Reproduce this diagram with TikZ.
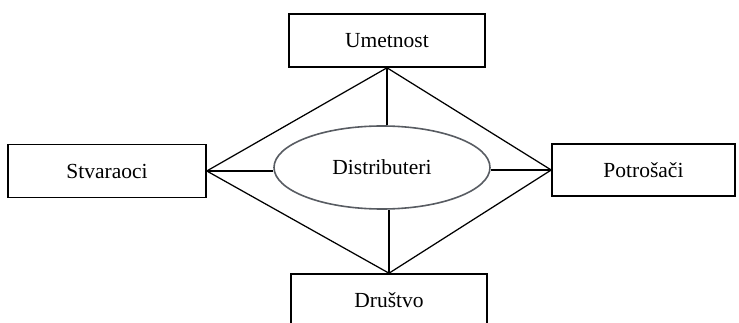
\documentclass[tikz,border=0pt]{standalone}
\usepackage{fontspec}
\setmainfont{Liberation Serif}
\usetikzlibrary{shapes.geometric}
\definecolor{ovalgray}{RGB}{88,92,98}
\tikzset{
  box/.style={draw=black, line width=1.6pt, minimum height=53pt, inner sep=0pt,
              font=\fontsize{21.5}{24}\selectfont},
  oval/.style={ellipse, draw=ovalgray, line width=1.6pt, minimum width=216pt,
               minimum height=83pt, inner sep=0pt, font=\fontsize{21.5}{24}\selectfont},
  link/.style={draw=black, line width=1.25pt}
}
\begin{document}
\begin{tikzpicture}[x=1pt, y=-1pt]
  \useasboundingbox (0,0) rectangle (739,323);
  % four actors around the centre
  \node[box, minimum width=196pt] (umet) at (387,40.5) {Umetnost};
  \node[box, minimum width=198pt] (stvar) at (107,171) {Stvaraoci};
  \node[box, minimum width=183pt, minimum height=52pt] (potr) at (643.5,170) {Potrošači};
  \node[box, minimum width=196pt] (drus) at (389,300.5) {Društvo};
  % distributors in the middle
  \node[oval] (dist) at (382,167.5) {Distributeri};
  % diamond joining the four boxes
  \draw[link] (umet.south) -- (stvar.east) -- (drus.north) -- (potr.west) -- cycle;
  % spokes from the diamond corners to the oval
  \draw[link] (umet.south) -- (umet.south |- dist.north);
  \draw[link] (drus.north) -- (drus.north |- dist.south);
  \draw[link] (stvar.east) -- (stvar.east -| dist.west);
  \draw[link] (potr.west) -- (potr.west -| dist.east);
\end{tikzpicture}
\end{document}
